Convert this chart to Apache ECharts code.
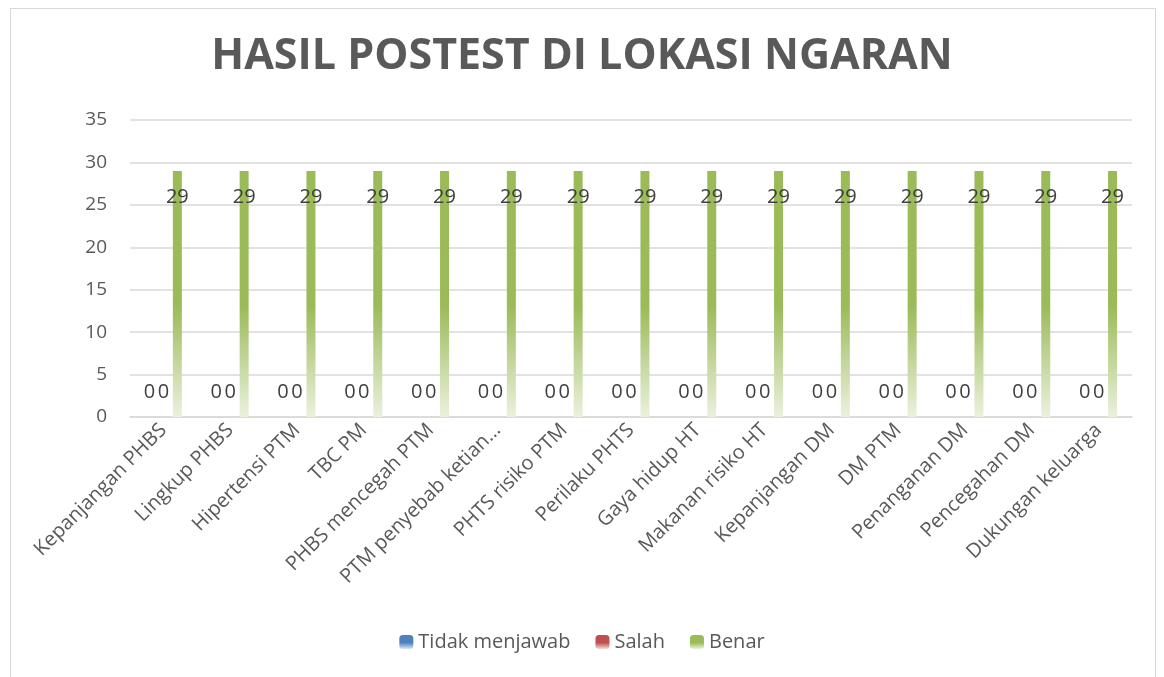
<!DOCTYPE html>
<html>
<head>
<meta charset="utf-8">
<script src="https://cdn.jsdelivr.net/npm/echarts@6/dist/echarts.min.js"></script>
<style>
  html, body { margin: 0; padding: 0; background: #fff; }
  #frame { position: absolute; left: 10px; top: 8px; width: 1146px; height: 680px; border: 1px solid #d9d9d9; box-sizing: border-box; }
  #chart { position: absolute; left: 0; top: 0; width: 1164px; height: 677px; }
</style>
</head>
<body>
<div id="frame"></div>
<div id="chart"></div>
<script>
// data kategori dan nilai
const categories = ['Kepanjangan PHBS', 'Lingkup PHBS', 'Hipertensi PTM', 'TBC PM', 'PHBS mencegah PTM',
  'PTM penyebab ketian…', 'PHTS risiko PTM', 'Perilaku PHTS', 'Gaya hidup HT', 'Makanan risiko HT',
  'Kepanjangan DM', 'DM PTM', 'Penanganan DM', 'Pencegahan DM', 'Dukungan keluarga'];
const tidakMenjawab = [0, 0, 0, 0, 0, 0, 0, 0, 0, 0, 0, 0, 0, 0, 0];
const salah = [0, 0, 0, 0, 0, 0, 0, 0, 0, 0, 0, 0, 0, 0, 0];
const benar = [29, 29, 29, 29, 29, 29, 29, 29, 29, 29, 29, 29, 29, 29, 29];

const font = '"Open Sans", "Noto Sans", sans-serif';

//warna gradasi ala excel
function fade(c, light) {
  return new echarts.graphic.LinearGradient(0, 0, 0, 1, [
    {offset: 0, color: c},
    {offset: 0.55, color: c},
    {offset: 1, color: light}
  ]);
}

const chartDom = document.getElementById('chart');
const myChart = echarts.init(chartDom);

const zeroLabel = {show: true, position: 'top', distance: 15, color: '#404040', fontSize: 20, fontFamily: font};

const option = {
  animation: false,
  title: {
    text: 'HASIL POSTEST DI LOKASI NGARAN',
    left: 'center',
    top: 30,
    textStyle: {fontFamily: font, fontSize: 43, fontWeight: 'bold', color: '#595959'}
  },
  legend: {
    bottom: 20,
    left: 'center',
    itemWidth: 14,
    itemHeight: 14,
    itemGap: 25,
    textStyle: {fontFamily: font, fontSize: 20, color: '#595959'},
    data: ['Tidak menjawab', 'Salah', 'Benar']
  },
  grid: {left: 130, right: 32, top: 120, bottom: 260},
  xAxis: {
    type: 'category',
    data: categories,
    axisLine: {lineStyle: {color: '#d9d9d9', width: 1.5}},
    axisTick: {show: false},
    axisLabel: {interval: 0, rotate: 45, margin: 10, fontFamily: font, fontSize: 20, color: '#595959'}
  },
  yAxis: {
    type: 'value',
    min: 0,
    max: 35,
    interval: 5,
    axisLine: {show: false},
    axisTick: {show: false},
    splitLine: {lineStyle: {color: '#d9d9d9', width: 1.5}},
    axisLabel: {margin: 23, fontFamily: font, fontSize: 19, color: '#595959'}
  },
  series: [
    {
      name: 'Tidak menjawab', type: 'bar', data: tidakMenjawab,
      barWidth: 9, barGap: '55%',
      itemStyle: {color: fade('#4F81BD', '#dce6f2')},
      label: zeroLabel
    },
    {
      name: 'Salah', type: 'bar', data: salah,
      barWidth: 9, barGap: '55%',
      itemStyle: {color: fade('#C0504D', '#f2dcdb')},
      label: zeroLabel
    },
    {
      name: 'Benar', type: 'bar', data: benar,
      barWidth: 9, barGap: '55%',
      itemStyle: {color: fade('#9BBB59', '#ebf1de')},
      label: {show: true, position: 'insideTop', distance: 16, color: '#404040', fontSize: 20, fontFamily: font}
    }
  ]
};

option && myChart.setOption(option);
</script>
</body>
</html>
